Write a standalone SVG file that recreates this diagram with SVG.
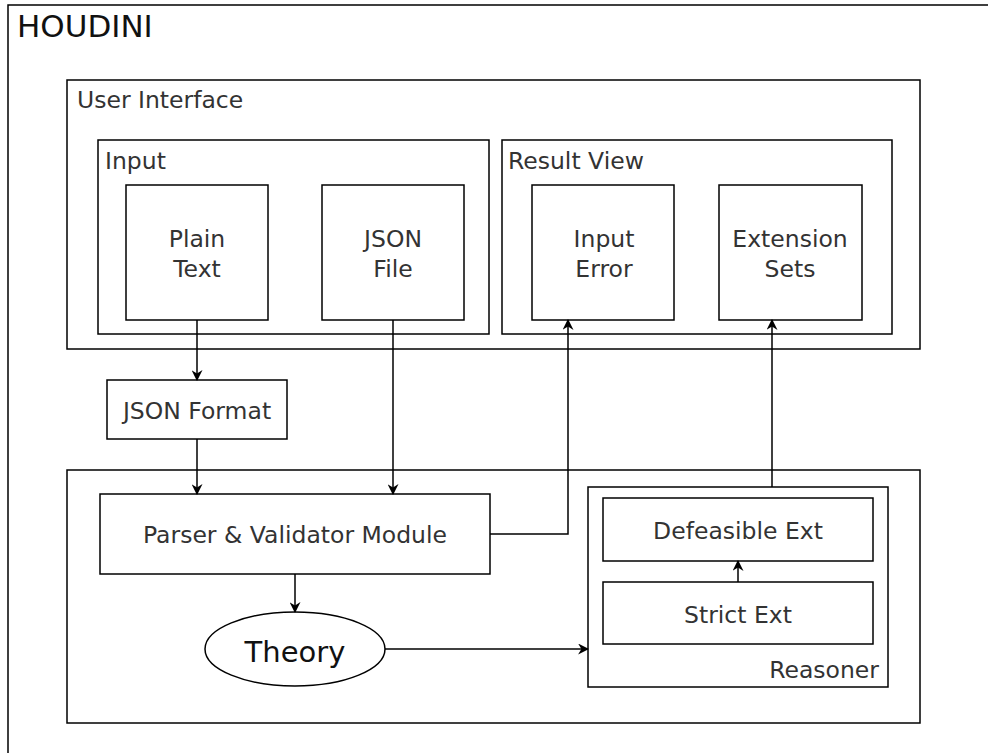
<svg xmlns="http://www.w3.org/2000/svg" width="988" height="753" viewBox="0 0 988 753">
<defs>
<marker id="arr" viewBox="0 0 10 10" refX="9" refY="5" markerWidth="11" markerHeight="11" markerUnits="userSpaceOnUse" orient="auto">
<path d="M0,0 L10,5 L0,10 L3,5 Z" fill="#000"/>
</marker>
</defs>
<style>
.b { fill: #fff; stroke: #000; stroke-width: 1.5; }
text { font-family: "DejaVu Sans", Verdana, sans-serif; fill: #333; font-size: 23.5px; }
.c { text-anchor: middle; }
.line { fill: none; stroke: #000; stroke-width: 1.5; marker-end: url(#arr); }
</style>
<rect width="988" height="753" style="fill:#fff;stroke:none"/>
<g id="houdini">
<rect class="b" x="8" y="5" width="1000" height="760"/>
<text x="17" y="37" style="font-size:31px;fill:#111">HOUDINI</text>
</g>
<g id="user-interface">
<rect class="b" x="67" y="80" width="853" height="269"/>
<text x="77" y="108">User Interface</text>
</g>
<g id="input">
<rect class="b" x="98" y="140" width="391" height="194"/>
<text x="105" y="169">Input</text>
</g>
<g id="plain-text">
<rect class="b" x="126" y="185" width="142" height="135"/>
<text class="c" x="197" y="247">Plain</text>
<text class="c" x="197" y="277">Text</text>
</g>
<g id="json-file">
<rect class="b" x="322" y="185" width="142" height="135"/>
<text class="c" x="393" y="247">JSON</text>
<text class="c" x="393" y="277">File</text>
</g>
<g id="result-view">
<rect class="b" x="502" y="140" width="390" height="194"/>
<text x="508" y="169">Result View</text>
</g>
<g id="input-error">
<rect class="b" x="532" y="185" width="142" height="135"/>
<text class="c" x="604" y="247">Input</text>
<text class="c" x="604" y="277">Error</text>
</g>
<g id="extension-sets">
<rect class="b" x="719" y="185" width="143" height="135"/>
<text class="c" x="790" y="247">Extension</text>
<text class="c" x="790" y="277">Sets</text>
</g>
<g id="json-format">
<rect class="b" x="107" y="380" width="180" height="59"/>
<text class="c" x="197" y="419">JSON Format</text>
</g>
<g id="backend">
<rect class="b" x="67" y="470" width="853" height="253"/>
</g>
<g id="parser">
<rect class="b" x="100" y="494" width="390" height="80"/>
<text class="c" x="295" y="543">Parser &amp; Validator Module</text>
</g>
<g id="theory">
<ellipse class="b" cx="295" cy="649" rx="90" ry="37"/>
<text class="c" x="295" y="662" style="font-size:29px;fill:#111">Theory</text>
</g>
<g id="reasoner">
<rect class="b" x="588" y="487" width="300" height="200"/>
<text x="879" y="678" text-anchor="end">Reasoner</text>
</g>
<g id="defeasible-ext">
<rect class="b" x="603" y="498" width="270" height="63"/>
<text class="c" x="738" y="539">Defeasible Ext</text>
</g>
<g id="strict-ext">
<rect class="b" x="603" y="582" width="270" height="62"/>
<text class="c" x="738" y="623">Strict Ext</text>
</g>
<g id="connectors">
<path class="line" d="M197,320 V380"/>
<path class="line" d="M197,439 V494"/>
<path class="line" d="M393,320 V494"/>
<path class="line" d="M490,534 H568 V320"/>
<path class="line" d="M772,487 V320"/>
<path class="line" d="M295,574 V612"/>
<path class="line" d="M385,649 H588"/>
<path class="line" d="M738,582 V561"/>
</g>
</svg>
